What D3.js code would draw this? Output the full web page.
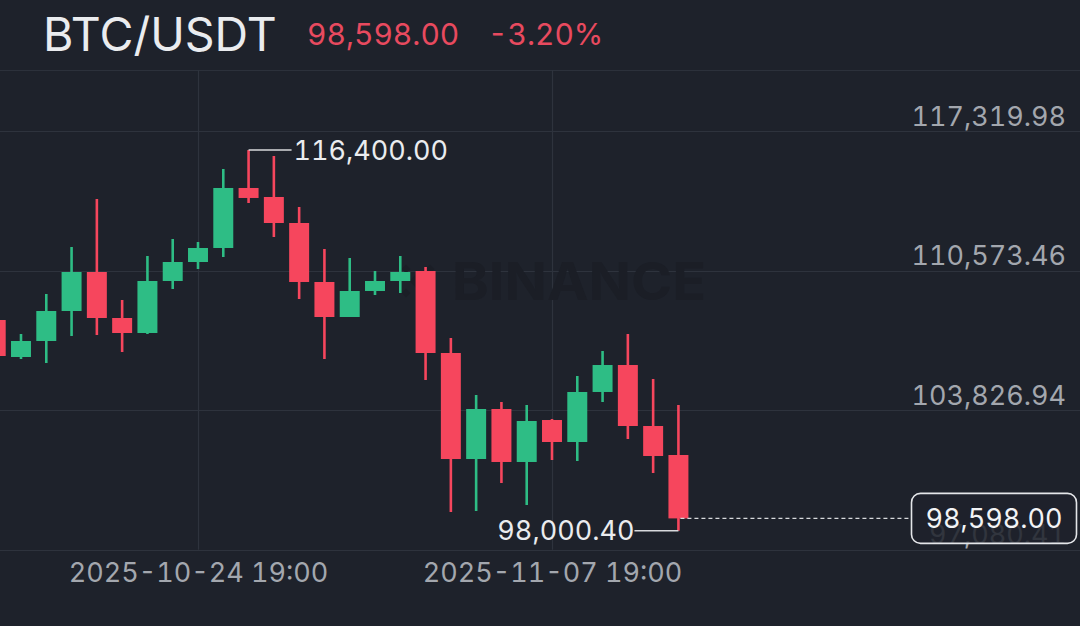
<!DOCTYPE html>
<html>
<head>
<meta charset="utf-8">
<script src="https://cdn.jsdelivr.net/npm/d3@7"></script>
<style>
  html, body { margin: 0; padding: 0; background: #1e222b; }
  svg { display: block; }
  text { font-family: Inter, "Noto Sans", sans-serif; font-variant-numeric: tabular-nums; font-feature-settings: "tnum" 1; }
</style>
</head>
<body>
<svg id="chart" width="1080" height="626"></svg>
<script>
// ---- data ----
const symbol = "BTC/USDT";
const lastPriceLabel = "98,598.00";
const changeLabel = "-3.20%";
const dates = [
  "2025-10-16 19:00","2025-10-17 19:00","2025-10-18 19:00","2025-10-19 19:00",
  "2025-10-20 19:00","2025-10-21 19:00","2025-10-22 19:00","2025-10-23 19:00",
  "2025-10-24 19:00","2025-10-25 19:00","2025-10-26 19:00","2025-10-27 19:00",
  "2025-10-28 19:00","2025-10-29 19:00","2025-10-30 19:00","2025-10-31 19:00",
  "2025-11-01 19:00","2025-11-02 19:00","2025-11-03 19:00","2025-11-04 19:00",
  "2025-11-05 19:00","2025-11-06 19:00","2025-11-07 19:00","2025-11-08 19:00",
  "2025-11-09 19:00","2025-11-10 19:00","2025-11-11 19:00","2025-11-12 19:00"
];
const opens  = [108186,106398,107171,108621,110506,108283,107558,110071,110989,111666,114566,114131,112874,110023,108331,109588,110071,110554,106591,101468,103885,101324,103353,102290,104707,106011,103063,101662];
const highs  = [108700,107510,109443,111714,114034,109153,111280,112101,111956,115484,116400,116112,113648,111618,111183,110554,111280,110748,107316,104562,104223,104078,103402,105480,106688,107510,105335,104078];
const lows   = [106000,106301,106108,107413,107461,106640,107510,109685,110651,111231,113841,112198,109201,106301,108331,109395,109491,105287,98907,98955,100309,99245,101420,101372,104223,102435,100792,98000.40];
const closes = [106446,107171,108621,110506,108283,107558,110071,110989,111666,114566,114083,112874,110023,108331,109588,110071,110506,106591,101468,103885,101324,103305,102290,104707,106011,103063,101614,98598];
const yTicks = [97080.41, 103826.94, 110573.46, 117319.98];
const xTicks = ["2025-10-24 19:00", "2025-11-07 19:00"];

// ---- setup ----
const parse = d3.utcParse("%Y-%m-%d %H:%M");
const fmtDate = d3.utcFormat("%Y-%m-%d %H:%M");
const fmtPrice = d3.format(",.2f");
const data = dates.map((d, i) => ({ t: parse(d), o: opens[i], h: highs[i], l: lows[i], c: closes[i] }));

const UP = "#2ebd85", DOWN = "#f6465d";
const svg = d3.select("#chart");

const x = d3.scaleUtc()
  .domain([parse(xTicks[0]), parse(xTicks[1])])
  .range([198, 552]);
const y = d3.scaleLinear()
  .domain([yTicks[0], yTicks[yTicks.length - 1]])
  .range([549.8, 131]);

const dayPx = x(d3.utcDay.offset(parse(xTicks[0]), 1)) - x(parse(xTicks[0]));
const bodyW = dayPx * 0.79;

// top separator
svg.append("line").attr("x1", 0).attr("x2", 1080).attr("y1", 70.5).attr("y2", 70.5)
  .attr("stroke", "#2c313b").attr("stroke-width", 1.2);

// horizontal grid
svg.append("g").selectAll("line").data(yTicks).join("line")
  .attr("x1", 0).attr("x2", 1080)
  .attr("y1", d => Math.round(y(d)) + 0.5).attr("y2", d => Math.round(y(d)) + 0.5)
  .attr("stroke", "#2e333d").attr("stroke-width", 1.2);

// vertical grid
svg.append("g").selectAll("line").data(xTicks.map(parse)).join("line")
  .attr("x1", d => Math.round(x(d)) + 0.5).attr("x2", d => Math.round(x(d)) + 0.5)
  .attr("y1", 70).attr("y2", y(yTicks[0]))
  .attr("stroke", "#2e333d").attr("stroke-width", 1.2);

// watermark
const wm = svg.append("g");
const lg = wm.append("g").attr("transform", "translate(418,281) rotate(45)");
[[0,0,12],[-17,0,6],[17,0,6],[0,-17,6],[0,17,6]].forEach(([cx, cy, s]) => {
  lg.append("rect").attr("x", cx - s/2).attr("y", cy - s/2).attr("width", s).attr("height", s)
    .attr("fill", "#1b1e26");
});
wm.append("text").attr("x", 452).attr("y", 300)
  .attr("font-size", 52).attr("font-weight", 700)
  .attr("textLength", 254).attr("lengthAdjust", "spacingAndGlyphs")
  .attr("fill", "#1b1e26").text("BINANCE");

// y-axis labels
const yAxis = d3.axisRight(y).tickValues(yTicks).tickFormat(fmtPrice).tickSize(0);
const ya = svg.append("g").attr("transform", "translate(1066,0)").call(yAxis);
ya.select(".domain").remove();
ya.selectAll("text")
  .attr("x", 0).attr("dy", "-6px").attr("text-anchor", "end")
  .attr("fill", "#a3a7ae").attr("font-size", 27).attr("font-family", null);

// x-axis labels
const xAxis = d3.axisBottom(x).tickValues(xTicks.map(parse)).tickFormat(fmtDate).tickSize(0);
const xa = svg.append("g").attr("transform", `translate(0,${y(yTicks[0])})`).call(xAxis);
xa.select(".domain").remove();
xa.selectAll("text")
  .attr("y", 0).attr("dy", "32px")
  .attr("fill", "#a3a7ae").attr("font-size", 27).attr("font-family", null);

// candles
const cg = svg.append("g");
const candle = cg.selectAll("g").data(data).join("g");
candle.append("line")
  .attr("x1", d => x(d.t)).attr("x2", d => x(d.t))
  .attr("y1", d => y(d.h)).attr("y2", d => y(d.l))
  .attr("stroke", d => d.c >= d.o ? UP : DOWN).attr("stroke-width", 2.6);
candle.append("rect")
  .attr("x", d => x(d.t) - bodyW / 2).attr("width", bodyW)
  .attr("y", d => y(Math.max(d.o, d.c)))
  .attr("height", d => Math.max(1.5, Math.abs(y(d.o) - y(d.c))))
  .attr("fill", d => d.c >= d.o ? UP : DOWN);

// high / low annotations
const hi = data.reduce((a, b) => b.h > a.h ? b : a);
const lo = data.reduce((a, b) => b.l < a.l ? b : a);
svg.append("line").attr("x1", x(hi.t)).attr("x2", x(hi.t) + 43)
  .attr("y1", y(hi.h)).attr("y2", y(hi.h)).attr("stroke", "#d8dadd").attr("stroke-width", 1.4);
svg.append("text").attr("x", x(hi.t) + 45).attr("y", y(hi.h)).attr("dy", "0.36em")
  .attr("fill", "#eaecef").attr("font-size", 27).text(fmtPrice(hi.h));
svg.append("line").attr("x1", x(lo.t)).attr("x2", x(lo.t) - 44)
  .attr("y1", y(lo.l)).attr("y2", y(lo.l)).attr("stroke", "#d8dadd").attr("stroke-width", 1.4);
svg.append("text").attr("x", x(lo.t) - 44).attr("y", y(lo.l)).attr("dy", "0.36em")
  .attr("text-anchor", "end")
  .attr("fill", "#eaecef").attr("font-size", 27).text(fmtPrice(lo.l));

// last price line + box
const last = data[data.length - 1];
const ly = y(last.c);
svg.append("line").attr("x1", x(last.t) + 2).attr("x2", 911)
  .attr("y1", ly).attr("y2", ly)
  .attr("stroke", "#d8dadd").attr("stroke-width", 1.2).attr("stroke-dasharray", "4,3");
svg.append("rect").attr("x", 911.5).attr("y", ly - 25).attr("width", 165).attr("height", 50)
  .attr("rx", 9).attr("fill", "#1e222b").attr("fill-opacity", 0.86)
  .attr("stroke", "#e4e6e9").attr("stroke-width", 1.6);
svg.append("text").attr("x", 994).attr("y", ly).attr("dy", "0.37em").attr("text-anchor", "middle")
  .attr("fill", "#f2f3f5").attr("font-size", 27).text(fmtPrice(last.c));

// title
svg.append("text").attr("x", 43).attr("y", 51)
  .attr("fill", "#eaecef").attr("font-size", 46.5).text(symbol);
svg.append("text").attr("x", 307).attr("y", 45)
  .attr("fill", "#e84a5f").attr("font-size", 30).text(lastPriceLabel);
svg.append("text").attr("x", 488).attr("y", 45)
  .attr("fill", "#e84a5f").attr("font-size", 30).text(changeLabel);
</script>
</body>
</html>
